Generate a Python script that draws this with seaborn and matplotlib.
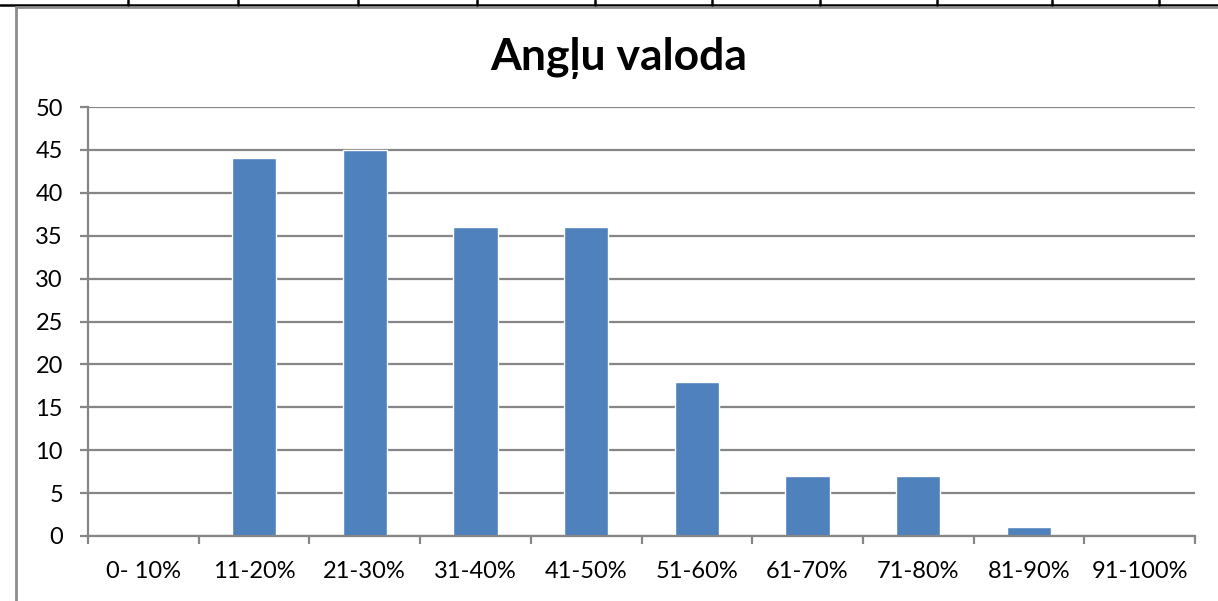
import matplotlib
matplotlib.use("Agg")
import matplotlib.pyplot as plt
from matplotlib.lines import Line2D
import seaborn as sns
import pandas as pd

# data
categories = ["0- 10%", "11-20%", "21-30%", "31-40%", "41-50%",
              "51-60%", "61-70%", "71-80%", "81-90%", "91-100%"]
counts = [0, 44, 45, 36, 36, 18, 7, 7, 1, 0]
y_ticks = list(range(0, 55, 5))
title = "Angļu valoda"

bar_color = "#4F81BD"
grid_color = "#868686"

sns.set_style("white")
plt.rcParams["font.family"] = ["Lato", "DejaVu Sans"]
plt.rcParams["text.color"] = "black"

W, H = 1218, 601
fig = plt.figure(figsize=(W / 100, H / 100), dpi=100)
ax = fig.add_axes([88 / W, 1 - 536 / H, (1195 - 88) / W, (536 - 107) / H])

df = pd.DataFrame({"range": categories, "count": counts})
sns.barplot(data=df, x="range", y="count", order=categories,
            color=bar_color, saturation=1, width=0.4, ax=ax, zorder=3)

ax.set_xlim(-0.5, len(categories) - 0.5)
ax.set_ylim(0, 50)
ax.set_yticks(y_ticks)
ax.set_xlabel("")
ax.set_ylabel("")

# grid
for y in y_ticks:
    ax.axhline(y, color=grid_color, lw=1.6, zorder=1)

for s in ["top", "right"]:
    ax.spines[s].set_visible(False)
for s in ["left", "bottom"]:
    ax.spines[s].set_color(grid_color)
    ax.spines[s].set_linewidth(1.6)
    ax.spines[s].set_zorder(4)

ax.tick_params(axis="y", length=6, width=1.6, color=grid_color,
               labelsize=17, pad=12, left=True, labelcolor="black")
ax.set_xticks(range(len(categories)))
ax.set_xticklabels(categories)
ax.tick_params(axis="x", which="major", length=0, labelsize=17, pad=18,
               labelcolor="black")
ax.set_xticks([i - 0.5 for i in range(len(categories) + 1)], minor=True)
ax.tick_params(axis="x", which="minor", length=6, width=1.6,
               color=grid_color, bottom=True)

fig.text(619 / W, 1 - 58 / H, title, ha="center", va="center",
         fontsize=32, fontweight="bold", color="black")

# chart frame and table lines above it
fig.add_artist(Line2D([0, 1], [1 - 5 / H, 1 - 5 / H], color="black", lw=1.8))
fig.add_artist(Line2D([15.5 / W, 1], [1 - 7 / H, 1 - 7 / H], color="#8c8c8c", lw=2))
fig.add_artist(Line2D([15.5 / W, 15.5 / W], [0, 1 - 7 / H], color="#8c8c8c", lw=2))
for x in [128, 238, 358, 477, 595, 712, 820, 937, 1052, 1159]:
    fig.add_artist(Line2D([x / W, x / W], [1 - 5 / H, 1], color="black", lw=1.8))

fig.savefig("out.png", dpi=100)
